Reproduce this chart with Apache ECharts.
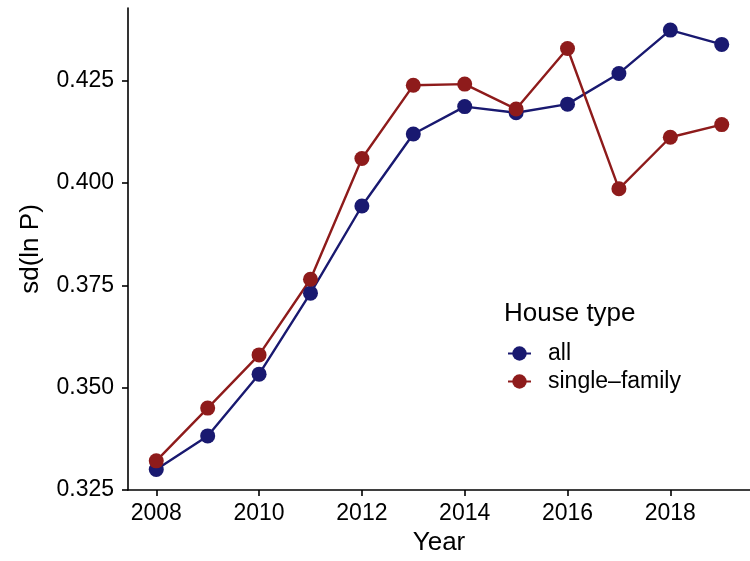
<!DOCTYPE html>
<html>
<head>
<meta charset="utf-8">
<script src="https://cdn.jsdelivr.net/npm/echarts@6/dist/echarts.min.js"></script>
<style>
  html, body { margin: 0; padding: 0; background: #fff; }
  #chart { width: 750px; height: 561px; }
</style>
</head>
<body>
<div id="chart"></div>
<script>
// values
const years = [2008, 2009, 2010, 2011, 2012, 2013, 2014, 2015, 2016, 2017, 2018, 2019]
const allValues = [0.3300, 0.3382, 0.3533, 0.3731, 0.3944, 0.4120, 0.4187, 0.4172, 0.4193, 0.4268, 0.4374, 0.4339]
const singleFamilyValues = [0.3321, 0.3450, 0.3580, 0.3765, 0.4060, 0.4239, 0.4242, 0.4181, 0.4329, 0.3986, 0.4112, 0.4143]
const xTicks = [2008, 2010, 2012, 2014, 2016, 2018]
const yTicks = [0.325, 0.350, 0.375, 0.400, 0.425]
const seriesNames = ['all', 'single\u2013family']

const font = "'Liberation Sans', Arial, sans-serif"
const navy = '#191970'
const darkRed = '#8E1B1B'

const pairs = vals => years.map((y, i) => [y, vals[i]])

const chart = echarts.init(document.getElementById('chart'))

const option = {
  animation: false,
  backgroundColor: '#fff',
  textStyle: { fontFamily: font, color: '#000' },
  grid: { left: 128, right: 0, top: 8, bottom: 71 },
  title: {
    text: 'House type',
    left: 504,
    top: 301,
    padding: 0,
    textStyle: { fontFamily: font, fontSize: 26, fontWeight: 'normal', color: '#000' }
  },
  legend: {
    orient: 'vertical',
    left: 507,
    top: 342,
    padding: 0,
    itemWidth: 23,
    itemHeight: 18,
    itemGap: 5,
    data: seriesNames,
    textStyle: { fontFamily: font, fontSize: 23, color: '#000', padding: [0, 0, 0, 12] }
  },
  xAxis: {
    type: 'value',
    min: 2007.45,
    max: 2019.55,
    name: 'Year',
    nameLocation: 'middle',
    nameGap: 39,
    nameTextStyle: { fontFamily: font, fontSize: 26, color: '#000' },
    splitLine: { show: false },
    axisLine: { lineStyle: { color: '#000', width: 1.6 } },
    axisTick: { customValues: xTicks, length: 6, lineStyle: { color: '#000', width: 1.6 } },
    axisLabel: {
      customValues: xTicks,
      margin: 12,
      fontFamily: font,
      fontSize: 23,
      color: '#000',
      formatter: v => String(v)
    }
  },
  yAxis: {
    type: 'value',
    min: 0.32498,
    max: 0.4428,
    name: 'sd(ln P)',
    nameLocation: 'middle',
    nameGap: 84,
    nameTextStyle: { fontFamily: font, fontSize: 26, color: '#000' },
    splitLine: { show: false },
    axisLine: { show: true, lineStyle: { color: '#000', width: 1.6 } },
    axisTick: { show: true, customValues: yTicks, length: 6, lineStyle: { color: '#000', width: 1.6 } },
    axisLabel: {
      customValues: yTicks,
      margin: 14,
      fontFamily: font,
      fontSize: 23,
      color: '#000',
      formatter: v => v.toFixed(3)
    }
  },
  series: [
    {
      name: seriesNames[0],
      type: 'line',
      data: pairs(allValues),
      symbol: 'circle',
      symbolSize: 15,
      lineStyle: { color: navy, width: 2.4 },
      itemStyle: { color: navy }
    },
    {
      name: seriesNames[1],
      type: 'line',
      data: pairs(singleFamilyValues),
      symbol: 'circle',
      symbolSize: 15,
      lineStyle: { color: darkRed, width: 2.4 },
      itemStyle: { color: darkRed }
    }
  ]
}

chart.setOption(option)
</script>
</body>
</html>
